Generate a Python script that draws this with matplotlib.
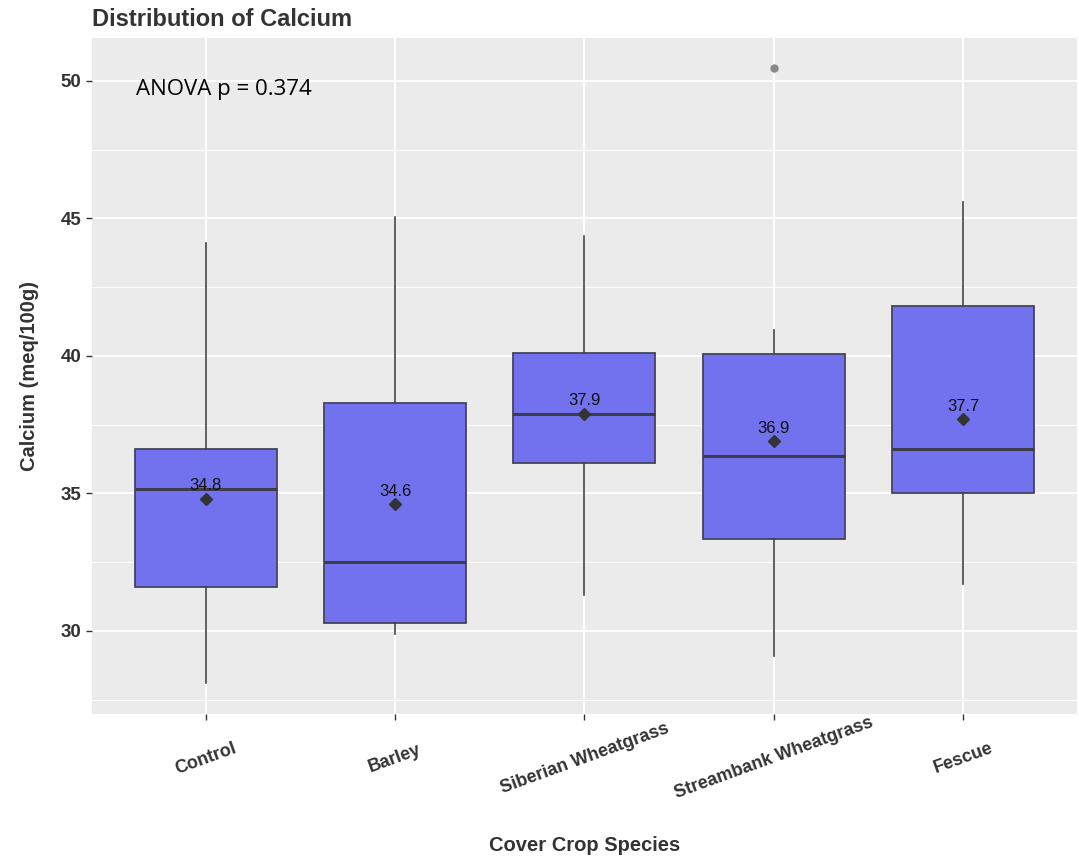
import matplotlib
matplotlib.use("Agg")
import matplotlib.pyplot as plt
from matplotlib.ticker import MultipleLocator

# values
species = ["Control", "Barley", "Siberian Wheatgrass", "Streambank Wheatgrass", "Fescue"]
q1 = [31.6, 30.3, 36.1, 33.35, 35.0]
median = [35.15, 32.5, 37.9, 36.35, 36.6]
q3 = [36.6, 38.3, 40.1, 40.07, 41.8]
whisker_lo = [28.1, 29.9, 31.3, 29.1, 31.7]
whisker_hi = [44.1, 45.05, 44.35, 40.95, 45.6]
means = [34.8, 34.6, 37.9, 36.9, 37.7]
outliers = [[], [], [], [50.45], []]
p_value = 0.374

stats = []
for i in range(len(species)):
    stats.append(dict(q1=q1[i], med=median[i], q3=q3[i], whislo=whisker_lo[i],
                      whishi=whisker_hi[i], mean=means[i], fliers=outliers[i],
                      label=species[i]))

fig = plt.figure(figsize=(10.79, 8.59), dpi=100)
ax = fig.add_axes([0.0853, 0.1688, 0.9127, 0.787])
ax.set_facecolor("#EBEBEB")
for s in ax.spines.values():
    s.set_visible(False)

pos = list(range(1, len(species) + 1))
ax.bxp(stats, positions=pos, widths=0.75, patch_artist=True, showmeans=True,
       showcaps=False, zorder=3,
       boxprops=dict(facecolor="#7272EE", edgecolor="#44445E", linewidth=1.3),
       medianprops=dict(color="#3C3C4C", linewidth=2.2),
       whiskerprops=dict(color="#444444", linewidth=1.2),
       meanprops=dict(marker="D", markerfacecolor="#333333", markeredgecolor="#333333",
                      markersize=6),
       flierprops=dict(marker="o", markerfacecolor="#888888", markeredgecolor="#888888",
                       markersize=5))

for x, m in zip(pos, means):
    ax.text(x, m + 0.2, f"{m:.1f}", ha="center", va="bottom", fontsize=12,
            color="#111111", family="Liberation Sans", zorder=4)

ax.text(0.63, 49.7, f"ANOVA p = {p_value}", ha="left", va="center",
        fontsize=16, family="Open Sans", color="black")

ax.set_xlim(0.4, 5.6)
ax.set_ylim(26.98, 51.56)
ax.yaxis.set_major_locator(MultipleLocator(5))
ax.yaxis.set_minor_locator(MultipleLocator(2.5))
ax.grid(which="major", color="white", linewidth=1.4, zorder=0)
ax.grid(which="minor", axis="y", color="white", linewidth=0.7, zorder=0)
ax.set_axisbelow(True)

ax.set_xticks(pos)
ax.set_xticklabels(species, rotation=20, ha="center", va="center",
                   rotation_mode="anchor", fontsize=13, fontweight="bold",
                   color="#333333", family="Liberation Sans")
ax.tick_params(axis="x", length=4, width=1, color="#333333", pad=28)
ax.tick_params(axis="y", which="major", length=4, width=1, color="#333333", labelsize=13.5,
               labelcolor="#333333")
ax.tick_params(axis="y", which="minor", length=0)
for lab in ax.get_yticklabels():
    lab.set_fontweight("bold")
    lab.set_family("Liberation Sans")

ax.set_xlabel("Cover Crop Species", fontsize=14.5, fontweight="bold", color="#333333",
              family="Liberation Sans", va="center")
ax.xaxis.set_label_coords(0.5, -0.194)
ax.set_ylabel("Calcium (meq/100g)", fontsize=14.5, fontweight="bold", color="#333333",
              family="Liberation Sans", va="center")
ax.yaxis.set_label_coords(-0.063, 0.5)
fig.text(0.0853, 0.991, "Distribution of Calcium", ha="left", va="top", fontsize=17,
         fontweight="bold", color="#333333", family="Liberation Sans")

fig.savefig("out.png", dpi=100, facecolor="white")
